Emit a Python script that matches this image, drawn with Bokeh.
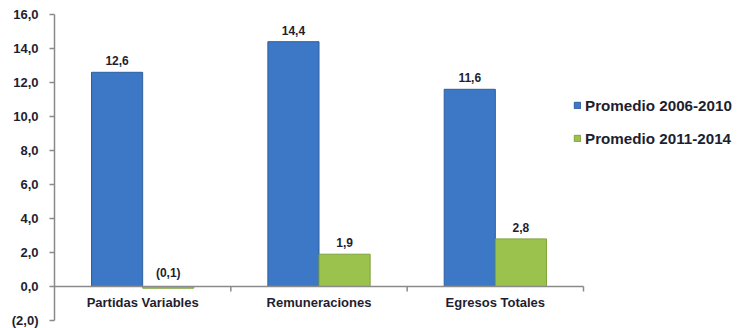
from bokeh.plotting import figure
from bokeh.models import Range1d, FixedTicker, ColumnDataSource, Legend, LegendItem
from bokeh.core.properties import value
from bokeh.embed import file_html
from bokeh.resources import INLINE

categories = ["Partidas Variables", "Remuneraciones", "Egresos Totales"]
series_names = ["Promedio 2006-2010", "Promedio 2011-2014"]
prom_2006_2010 = [12.6, 14.4, 11.6]
prom_2011_2014 = [-0.1, 1.9, 2.8]
y_ticks = [-2, 0, 2, 4, 6, 8, 10, 12, 14, 16]

def fmt(v):
    s = f"{abs(v):.1f}".replace(".", ",")
    return f"({s})" if v < 0 else s

FONT = "Liberation Sans"
TXT = "#1e1e30"
BLUE = "#3C78C6"
GREEN = "#9BC24C"
AXC = "#8a8a8a"

W, H = 739, 328
LEFT, TOP, BOTTOM, RIGHT = 54, 14, 8, 2
CAT_AREA = 529  # pixel width occupied by the categories
frame_w = W - LEFT - RIGHT

n = len(categories)
centers = [i + 0.5 for i in range(n)]
bw = 0.29

p = figure(width=W, height=H, output_backend="svg", toolbar_location=None,
           x_range=Range1d(0, n * frame_w / CAT_AREA), y_range=Range1d(-2, 16),
           x_axis_location=None, min_border_left=LEFT, min_border_right=RIGHT,
           min_border_top=TOP, min_border_bottom=BOTTOM)
p.outline_line_color = None
p.xgrid.visible = False
p.ygrid.visible = False

src1 = ColumnDataSource(dict(x=[c - bw / 2 for c in centers], top=prom_2006_2010,
                             lab=[fmt(v) for v in prom_2006_2010],
                             ly=[max(v, 0) for v in prom_2006_2010]))
src2 = ColumnDataSource(dict(x=[c + bw / 2 for c in centers], top=prom_2011_2014,
                             lab=[fmt(v) for v in prom_2011_2014],
                             ly=[max(v, 0) for v in prom_2011_2014]))

r1 = p.vbar(x="x", top="top", bottom=0, width=bw, source=src1,
            fill_color=BLUE, line_color="#2E5E9E", line_width=1)
r2 = p.vbar(x="x", top="top", bottom=0, width=bw, source=src2,
            fill_color=GREEN, line_color="#7FA33A", line_width=1)

for s in (src1, src2):
    p.text(x="x", y="ly", text="lab", source=s, text_align="center",
           text_baseline="bottom", y_offset=-7, text_font=value(FONT),
           text_font_style="bold", text_font_size="12px", text_color=TXT)

# category axis line at zero, with ticks at category boundaries
p.segment(x0=[0], x1=[n], y0=[0], y1=[0], line_color=AXC, line_width=1.5)
bounds = [i + 1 for i in range(n)]
p.segment(x0=bounds, x1=bounds, y0=[0] * n, y1=[-0.3] * n, line_color=AXC, line_width=1.5)

# category labels
p.text(x=centers, y=[0] * n, text=categories, text_align="center", text_baseline="middle",
       y_offset=16, text_font=value(FONT), text_font_style="bold", text_font_size="13px",
       text_color=TXT)

ax = p.yaxis[0]
ax.ticker = FixedTicker(ticks=y_ticks)
ax.major_label_overrides = {t: fmt(float(t)) for t in y_ticks}
ax.axis_line_color = AXC
ax.axis_line_width = 1.5
ax.major_tick_line_color = AXC
ax.major_tick_line_width = 1.5
ax.major_tick_out = 5
ax.major_tick_in = 0
ax.minor_tick_line_color = None
ax.major_label_standoff = 11
ax.major_label_text_font = FONT
ax.major_label_text_font_style = "bold"
ax.major_label_text_font_size = "13px"
ax.major_label_text_color = TXT

legend = Legend(items=[LegendItem(label=series_names[0], renderers=[r1]),
                       LegendItem(label=series_names[1], renderers=[r2])],
                location=(519, 172), border_line_color=None, background_fill_alpha=0,
                padding=0, margin=0, glyph_width=8, glyph_height=8, label_height=20,
                spacing=13, label_standoff=4, label_text_font=FONT,
                label_text_font_style="bold", label_text_font_size="15.2px",
                label_text_color=TXT)
p.add_layout(legend, "center")

open("out.html", "w").write(file_html(p, INLINE))
